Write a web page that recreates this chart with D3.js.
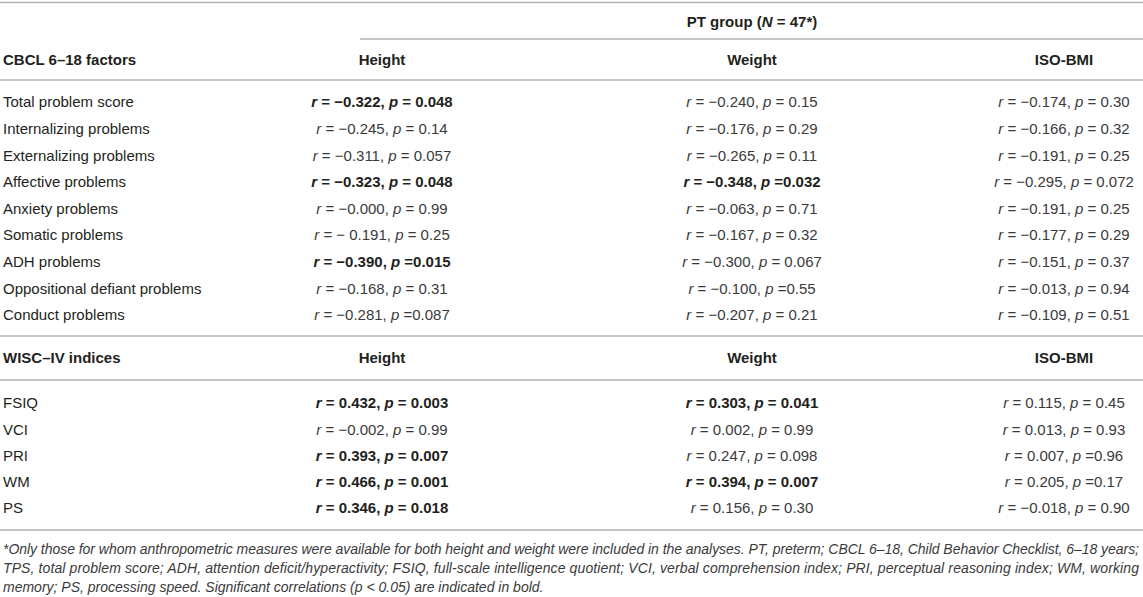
<!DOCTYPE html>
<html>
<head>
<meta charset="utf-8">
<script src="https://cdn.jsdelivr.net/npm/d3@7"></script>
<style>
  body { margin: 0; background: #fff; }
  svg text { font-family: "Liberation Sans", Arial, Helvetica, sans-serif; }
</style>
</head>
<body>
<div id="chart"></div>
<script>
// table values
const columns = ["Height", "Weight", "ISO-BMI"];

const cbclFactors = ["Total problem score", "Internalizing problems", "Externalizing problems",
  "Affective problems", "Anxiety problems", "Somatic problems", "ADH problems",
  "Oppositional defiant problems", "Conduct problems"];
const cbclHeightR = ["−0.322", "−0.245", "−0.311", "−0.323", "−0.000", "− 0.191", "−0.390", "−0.168", "−0.281"];
const cbclHeightP = ["= 0.048", "= 0.14", "= 0.057", "= 0.048", "= 0.99", "= 0.25", "=0.015", "= 0.31", "=0.087"];
const cbclWeightR = ["−0.240", "−0.176", "−0.265", "−0.348", "−0.063", "−0.167", "−0.300", "−0.100", "−0.207"];
const cbclWeightP = ["= 0.15", "= 0.29", "= 0.11", "=0.032", "= 0.71", "= 0.32", "= 0.067", "=0.55", "= 0.21"];
const cbclIsoR = ["−0.174", "−0.166", "−0.191", "−0.295", "−0.191", "−0.177", "−0.151", "−0.013", "−0.109"];
const cbclIsoP = ["= 0.30", "= 0.32", "= 0.25", "= 0.072", "= 0.25", "= 0.29", "= 0.37", "= 0.94", "= 0.51"];

const wiscIndices = ["FSIQ", "VCI", "PRI", "WM", "PS"];
const wiscHeightR = ["0.432", "−0.002", "0.393", "0.466", "0.346"];
const wiscHeightP = ["= 0.003", "= 0.99", "= 0.007", "= 0.001", "= 0.018"];
const wiscWeightR = ["0.303", "0.002", "0.247", "0.394", "0.156"];
const wiscWeightP = ["= 0.041", "= 0.99", "= 0.098", "= 0.007", "= 0.30"];
const wiscIsoR = ["0.115", "0.013", "0.007", "0.205", "−0.018"];
const wiscIsoP = ["= 0.45", "= 0.93", "=0.96", "=0.17", "= 0.90"];

const footnote = [
  "*Only those for whom anthropometric measures were available for both height and weight were included in the analyses. PT, preterm; CBCL 6–18, Child Behavior Checklist, 6–18 years;",
  "TPS, total problem score; ADH, attention deficit/hyperactivity; FSIQ, full-scale intelligence quotient; VCI, verbal comprehension index; PRI, perceptual reasoning index; WM, working",
  "memory; PS, processing speed. Significant correlations (p < 0.05) are indicated in bold."
];

const width = 1143, height = 597;
const lineColor = "#b0b0b0", textColor = "#231f20", valueColor = "#3a3a3a";

const svg = d3.select("#chart").append("svg")
  .attr("width", width)
  .attr("height", height);

// column positions (not evenly spaced in the source)
const x = d3.scaleOrdinal().domain(columns).range([382, 752, 1064]);

function rule(y, x0 = 0, x1 = width) {
  svg.append("line")
    .attr("x1", x0).attr("x2", x1)
    .attr("y1", y).attr("y2", y)
    .attr("stroke", lineColor)
    .attr("stroke-width", 1.5);
}

rule(2.5);
rule(39, 360, width);
rule(80);
rule(336);
rule(380);
rule(530);

// group header
const pt = svg.append("text")
  .attr("x", 752).attr("y", 22).attr("dy", "0.35em")
  .attr("text-anchor", "middle")
  .attr("font-size", 15).attr("font-weight", "bold")
  .attr("fill", textColor);
pt.append("tspan").text("PT group (");
pt.append("tspan").attr("font-style", "italic").text("N");
pt.append("tspan").text(" = 47*)");

function section(title, labels, rCols, pCols, headerY, y0, y1) {
  svg.append("text")
    .attr("x", 3).attr("y", headerY).attr("dy", "0.35em")
    .attr("font-size", 15).attr("font-weight", "bold")
    .attr("fill", textColor)
    .text(title);

  svg.selectAll(null)
    .data(columns)
    .join("text")
    .attr("x", d => x(d)).attr("y", headerY).attr("dy", "0.35em")
    .attr("text-anchor", "middle")
    .attr("font-size", 15).attr("font-weight", "bold")
    .attr("fill", textColor)
    .text(d => d);

  const y = d3.scalePoint().domain(labels).range([y0, y1]);

  svg.selectAll(null)
    .data(labels)
    .join("text")
    .attr("x", 3).attr("y", d => y(d)).attr("dy", "0.35em")
    .attr("font-size", 15)
    .attr("fill", textColor)
    .text(d => d);

  const cells = [];
  columns.forEach((c, ci) => {
    labels.forEach((l, i) => {
      const p = pCols[ci][i];
      cells.push({ col: c, row: l, r: rCols[ci][i], p, sig: +p.replace(/[=\s]/g, "") < 0.05 });
    });
  });

  const t = svg.selectAll(null)
    .data(cells)
    .join("text")
    .attr("x", d => x(d.col)).attr("y", d => y(d.row)).attr("dy", "0.35em")
    .attr("text-anchor", "middle")
    .attr("font-size", 15)
    .attr("font-weight", d => d.sig ? "bold" : "normal")
    .attr("fill", d => d.sig ? textColor : valueColor);

  t.append("tspan").attr("font-style", "italic").text("r");
  t.append("tspan").text(d => ` = ${d.r}, `);
  t.append("tspan").attr("font-style", "italic").text("p");
  t.append("tspan").text(d => ` ${d.p}`);
}

section("CBCL 6–18 factors", cbclFactors,
  [cbclHeightR, cbclWeightR, cbclIsoR], [cbclHeightP, cbclWeightP, cbclIsoP], 60, 102, 315);
section("WISC–IV indices", wiscIndices,
  [wiscHeightR, wiscWeightR, wiscIsoR], [wiscHeightP, wiscWeightP, wiscIsoP], 358, 403, 508);

// footnote, first two lines justified to full width
svg.selectAll(null)
  .data(footnote)
  .join("text")
  .attr("x", 3)
  .attr("y", (d, i) => 549 + i * 19).attr("dy", "0.35em")
  .attr("font-size", 14)
  .attr("font-style", "italic")
  .attr("fill", valueColor)
  .attr("textLength", (d, i) => i < 2 ? 1136 : null)
  .attr("lengthAdjust", "spacing")
  .text(d => d);
</script>
</body>
</html>
